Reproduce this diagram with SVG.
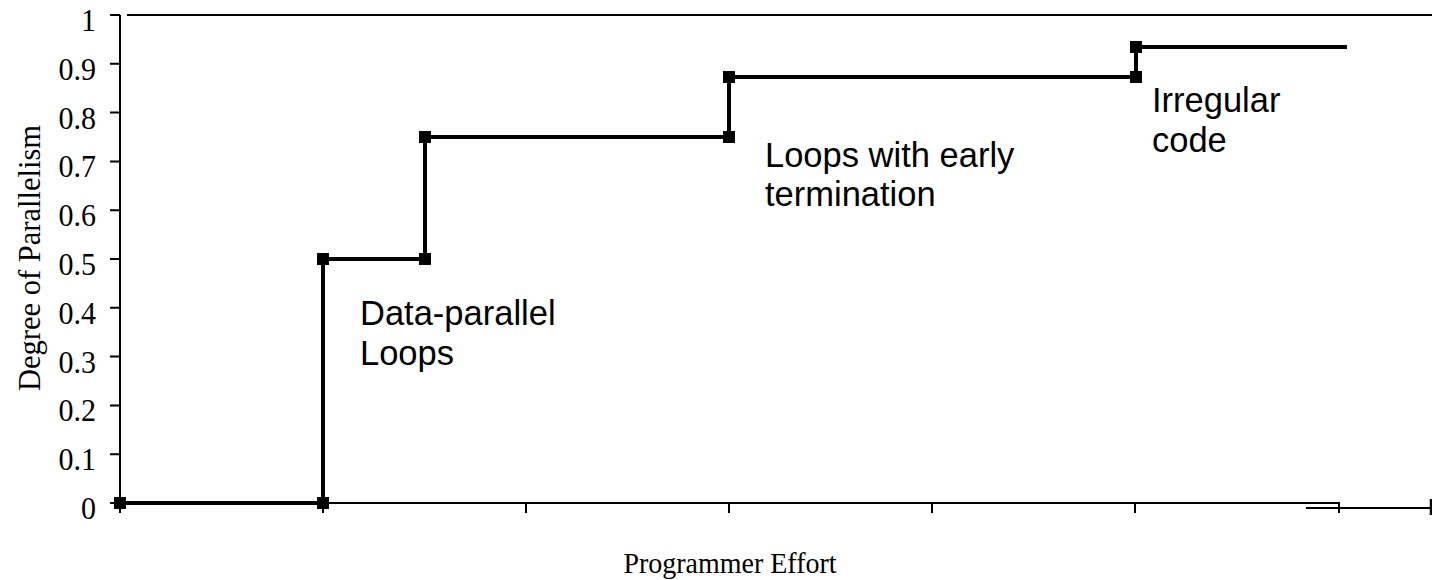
<svg xmlns="http://www.w3.org/2000/svg" width="1432" height="580" viewBox="0 0 1432 580">
<style>
.ax{stroke:#000;stroke-width:2;fill:none}
.tk{font-family:"Liberation Serif","Times New Roman",serif;font-size:30px;fill:#000}
.ttl{font-family:"Liberation Serif","Times New Roman",serif;font-size:28px;fill:#000}
.ann{font-family:"Liberation Sans",Arial,sans-serif;font-size:34.5px;fill:#000}
.ser{stroke:#000;stroke-width:4;fill:none}
</style>
<rect width="1432" height="580" fill="#fff"/>
<g id="axes">
<line class="ax" x1="127" y1="15" x2="1432" y2="15"/>
<line class="ax" x1="120" y1="15" x2="120" y2="503"/>
<path class="ax" d="M110 15H120M110 63.8H120M110 112.6H120M110 161.4H120M110 210.2H120M110 259H120M110 307.8H120M110 356.6H120M110 405.4H120M110 454.2H120M110 503H120"/>
<path class="ax" d="M120 503H1339V509"/>
<path class="ax" d="M1306 508H1432"/>
<path class="ax" d="M120 503V513M323 503V513M526 503V513M729 503V513M932 503V513M1135 503V513M1339 503V513"/>
<line x1="1431" y1="499" x2="1431" y2="515" stroke="#000" stroke-width="2.5"/>
</g>
<g id="y-labels" class="tk" text-anchor="end">
<text transform="translate(96 31) scale(1 1.08)">1</text>
<text transform="translate(96 79.8) scale(1 1.08)">0.9</text>
<text transform="translate(96 128.6) scale(1 1.08)">0.8</text>
<text transform="translate(96 177.4) scale(1 1.08)">0.7</text>
<text transform="translate(96 226.2) scale(1 1.08)">0.6</text>
<text transform="translate(96 275) scale(1 1.08)">0.5</text>
<text transform="translate(96 323.8) scale(1 1.08)">0.4</text>
<text transform="translate(96 372.6) scale(1 1.08)">0.3</text>
<text transform="translate(96 421.4) scale(1 1.08)">0.2</text>
<text transform="translate(96 470.2) scale(1 1.08)">0.1</text>
<text transform="translate(96 519) scale(1 1.08)">0</text>
</g>
<text id="x-title" class="ttl" transform="translate(730 573) scale(1 1.05)" text-anchor="middle">Programmer Effort</text>
<text id="y-title" class="ttl" style="font-size:30.5px" transform="translate(40 258) rotate(-90)" text-anchor="middle">Degree of Parallelism</text>
<g id="series">
<path class="ser" d="M120 503H323V259H425V137H729V77H1136V47H1347"/>
<rect x="114" y="497" width="12" height="12"/>
<rect x="317" y="497" width="12" height="12"/>
<rect x="317" y="253" width="12" height="12"/>
<rect x="419" y="253" width="12" height="12"/>
<rect x="419" y="131" width="12" height="12"/>
<rect x="723" y="131" width="12" height="12"/>
<rect x="723" y="71" width="12" height="12"/>
<rect x="1130" y="71" width="12" height="12"/>
<rect x="1130" y="41" width="12" height="12"/>
</g>
<g id="annotations" class="ann">
<text x="360" y="325">Data-parallel</text>
<text x="360" y="365">Loops</text>
<text x="765" y="167">Loops with early</text>
<text x="765" y="206">termination</text>
<text x="1152" y="112">Irregular</text>
<text x="1152" y="152">code</text>
</g>
</svg>
